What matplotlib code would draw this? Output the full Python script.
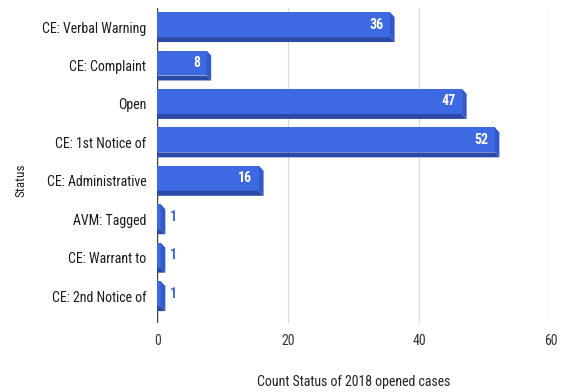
"""Horizontal 3D-style bar chart: count per status of the 2018 opened cases."""

import matplotlib
matplotlib.use("Agg")
import matplotlib.pyplot as plt
from matplotlib.patches import Polygon
from matplotlib import font_manager

STATUSES = ["CE: Verbal Warning", "CE: Complaint", "Open", "CE: 1st Notice of",
            "CE: Administrative", "AVM: Tagged", "CE: Warrant to",
            "CE: 2nd Notice of"]
COUNTS = [36, 8, 47, 52, 16, 1, 1, 1]
XTICKS = [0, 20, 40, 60]

FACE = "#3d6ae2"
SIDE = "#3259c9"
BOTTOM = "#2b4aa8"

names = {f.name for f in font_manager.fontManager.ttflist}
FONT = next((n for n in ("Liberation Sans Narrow", "Roboto Condensed", "Roboto")
             if n in names), "DejaVu Sans")
plt.rcParams["font.family"] = [FONT, "DejaVu Sans"]


def draw_bar(ax, i, v, h=0.78, bev=0.13, dx=0.7, off=0.5):
    top = i - h / 2
    fb = top + h - bev          # lower edge of the front face
    bot = i + h / 2
    x0, x1 = -off, v - off
    ax.barh(top + (h - bev) / 2, x1 - x0, left=x0, height=h - bev,
            color=FACE, zorder=3)
    ax.add_patch(Polygon([(x1, top), (x1 + dx, top + bev), (x1 + dx, bot), (x1, fb)],
                         closed=True, color=SIDE, lw=0, zorder=3))
    ax.add_patch(Polygon([(x0, fb), (x1, fb), (x1 + dx, bot), (x0, bot)],
                         closed=True, color=BOTTOM, lw=0, zorder=3))
    return (top + fb) / 2


fig = plt.figure(figsize=(5.62, 3.92), dpi=100)
ax = fig.add_axes([0.2802, 0.176, 0.6993, 0.804])

for i, v in enumerate(COUNTS):
    yc = draw_bar(ax, i, v)
    if v >= 5:
        ax.text(v - 1.5, yc, str(v), color="white", ha="right", va="center",
                fontsize=10, fontweight="bold", zorder=4)
    else:
        ax.text(v + 0.9, yc, str(v), color=FACE, ha="left", va="center",
                fontsize=10, fontweight="bold", zorder=4)

ax.set_xlim(0, 60)
ax.set_ylim(7.7, -0.5)
ax.set_xticks(XTICKS)
ax.set_xticklabels([str(t) for t in XTICKS], fontsize=10, color="#333333")
ax.set_yticks(range(len(STATUSES)))
ax.set_yticklabels(STATUSES, fontsize=10, color="#1a1a1a")
ax.tick_params(length=0, axis="y", pad=8)
ax.tick_params(length=0, axis="x", pad=8)
ax.grid(axis="x", color="#d9d9d9", lw=0.9, zorder=0)
ax.axvline(0, color="#444444", lw=1.0, zorder=2)
for s in ax.spines.values():
    s.set_visible(False)

ax.set_xlabel("Count Status of 2018 opened cases", fontsize=10, color="#222222",
              labelpad=19)
ax.set_ylabel("Status", fontsize=9.5, color="#222222")
ax.yaxis.set_label_coords(-0.33, 0.454)

fig.savefig("out.png", dpi=100)
